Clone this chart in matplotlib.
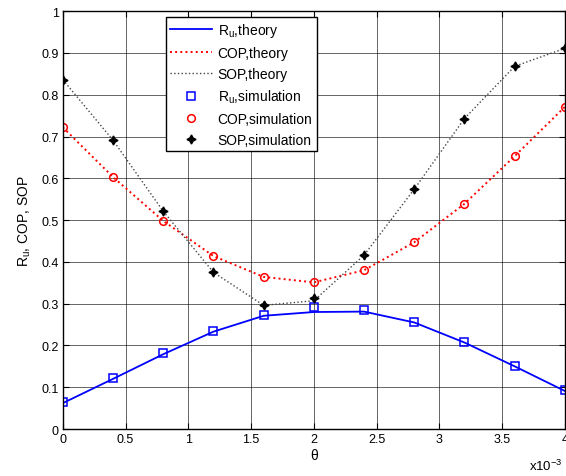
import matplotlib
matplotlib.use("Agg")
import matplotlib.pyplot as plt
from matplotlib.ticker import FuncFormatter

plt.rcParams['font.family'] = ['Liberation Sans', 'DejaVu Sans']
plt.rcParams['mathtext.fontset'] = 'custom'
plt.rcParams['mathtext.rm'] = 'Liberation Sans'
plt.rcParams['mathtext.it'] = 'Liberation Sans'

# theta values (rad)
theta = [0.0, 0.0004, 0.0008, 0.0012, 0.0016, 0.0020, 0.0024, 0.0028, 0.0032, 0.0036, 0.0040]

# theory curves
ru_theory = [0.062, 0.120, 0.179, 0.233, 0.271, 0.280, 0.281, 0.255, 0.207, 0.150, 0.091]
cop_theory = [0.722, 0.603, 0.498, 0.414, 0.364, 0.351, 0.380, 0.447, 0.539, 0.653, 0.771]
sop_theory = [0.836, 0.691, 0.521, 0.375, 0.296, 0.307, 0.416, 0.574, 0.743, 0.868, 0.911]

# simulation points
ru_sim = [0.064, 0.121, 0.181, 0.235, 0.273, 0.291, 0.285, 0.257, 0.209, 0.151, 0.093]
cop_sim = [0.722, 0.603, 0.498, 0.414, 0.364, 0.351, 0.380, 0.447, 0.539, 0.653, 0.771]
sop_sim = [0.836, 0.691, 0.521, 0.375, 0.297, 0.313, 0.416, 0.574, 0.743, 0.868, 0.911]

fig = plt.figure(figsize=(5.66, 4.77), dpi=100)
ax = fig.add_axes([0.111, 0.0985, 0.887, 0.876])

h1, = ax.plot(theta, ru_theory, '-', color='#0000ff', lw=1.3, label='R$_\\mathrm{u}$,theory')
h2, = ax.plot(theta, cop_theory, ':', color='#ff0000', lw=1.4, label='COP,theory')
h3, = ax.plot(theta, sop_theory, ':', color='#444444', lw=1.0, label='SOP,theory')
h4, = ax.plot(theta, ru_sim, 's', mfc='none', mec='#0000ff', ms=6, mew=1.1, label='R$_\\mathrm{u}$,simulation')
h5, = ax.plot(theta, cop_sim, 'o', mfc='none', mec='#ff0000', ms=5.5, mew=1.1, label='COP,simulation')
h6, = ax.plot(theta, sop_sim, marker=(4, 1, 0), ls='none', color='black', ms=6.5, label='SOP,simulation')

ax.set_xlim(0, 0.004)
ax.set_ylim(0, 1)
ax.set_xticks([i * 0.0005 for i in range(9)])
ax.set_yticks([i / 10 for i in range(11)])
ax.xaxis.set_major_formatter(FuncFormatter(lambda v, p: f"{v * 1e3:g}"))
ax.yaxis.set_major_formatter(FuncFormatter(lambda v, p: f"{v:g}"))
ax.grid(True, color='black', lw=0.5, alpha=0.85)
ax.tick_params(direction='in', top=True, right=True, labelsize=9, length=4, pad=3)
for s in ax.spines.values():
    s.set_linewidth(1.0)

ax.set_xlabel('θ', fontsize=10, labelpad=2)
ax.set_ylabel('R$_\\mathrm{u}$, COP, SOP', fontsize=10, labelpad=6)
fig.text(0.935, 0.012, 'x10$^{-3}$', fontsize=9.5)

leg = ax.legend(handles=[h1, h2, h3, h4, h5, h6], loc='upper left',
                bbox_to_anchor=(0.206, 0.987), fontsize=10, frameon=True,
                fancybox=False, edgecolor='black', framealpha=1,
                labelspacing=0.5, handlelength=3.0, borderpad=0.3,
                handletextpad=0.4, borderaxespad=0)
leg.get_frame().set_linewidth(1.0)

fig.savefig('out.png', dpi=100)
